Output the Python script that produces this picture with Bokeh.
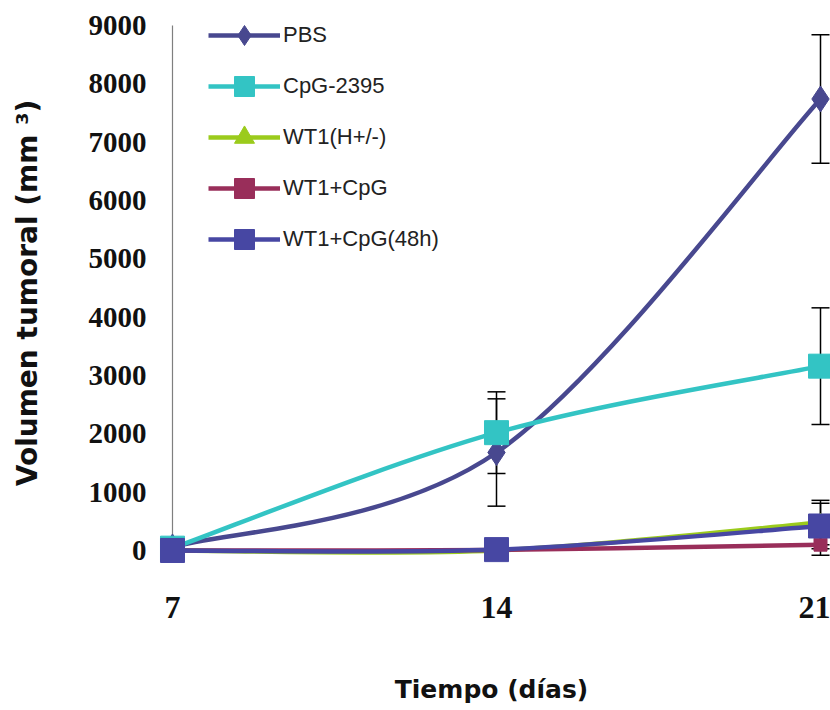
from bokeh.plotting import figure
from bokeh.models import (ColumnDataSource, Whisker, TeeHead, Legend, LegendItem,
                          FixedTicker, Range1d)
from bokeh.embed import file_html
from bokeh.resources import INLINE

# ---------------- data ----------------
days = [7, 14, 21]
x_tick_labels = ["7", "14", "21"]
y_ticks = [0, 1000, 2000, 3000, 4000, 5000, 6000, 7000, 8000, 9000]

names = ["PBS", "CpG-2395", "WT1(H+/-)", "WT1+CpG", "WT1+CpG(48h)"]
pbs = [60, 1680, 7740]
pbs_err = [30, 920, 1100]
cpg = [40, 2020, 3160]
cpg_err = [30, 700, 1000]
wt1 = [0, 0, 480]
wt1_err = [20, 20, 380]
wt1cpg = [0, 10, 100]
wt1cpg_err = [10, 20, 180]
wt1cpg48 = [0, 15, 420]
wt1cpg48_err = [10, 20, 390]

values = [pbs, cpg, wt1, wt1cpg, wt1cpg48]
errors = [pbs_err, cpg_err, wt1_err, wt1cpg_err, wt1cpg48_err]
colors = ["#48488F", "#33C4C4", "#9BCB1C", "#992E5A", "#4747A3"]
markers = ["diamond", "square", "triangle", "square", "square"]
sizes = [26, 24, 16, 13, 24]

# ---------------- figure ----------------
p = figure(width=830, height=710, output_backend="svg", toolbar_location=None,
           x_range=Range1d(6.568, 21.216), y_range=Range1d(-428.6, 9257.1),
           min_border_left=152, min_border_right=0, min_border_top=10,
           min_border_bottom=135, background_fill_color="white",
           border_fill_color="white")
p.outline_line_color = None
p.xgrid.visible = False
p.ygrid.visible = False

# y axis
p.yaxis.ticker = FixedTicker(ticks=y_ticks)
p.yaxis.axis_line_color = None
p.yaxis.major_tick_line_color = None
p.yaxis.minor_tick_line_color = None
p.yaxis.major_tick_out = 0
p.yaxis.major_label_standoff = 6
p.yaxis.major_label_text_font = "Liberation Serif"
p.yaxis.major_label_text_font_style = "bold"
p.yaxis.major_label_text_font_size = "29px"
p.yaxis.major_label_text_color = "#111111"
p.yaxis.axis_label = "Volumen tumoral (mm ³)"
p.yaxis.axis_label_standoff = 42
p.yaxis.axis_label_text_font = "DejaVu Sans"
p.yaxis.axis_label_text_font_style = "bold"
p.yaxis.axis_label_text_font_size = "28px"
p.yaxis.axis_label_text_color = "#111111"

# x axis
p.xaxis.ticker = FixedTicker(ticks=days)
p.xaxis.major_label_overrides = {d: t for d, t in zip(days, x_tick_labels)}
p.xaxis.axis_line_color = None
p.xaxis.major_tick_line_color = None
p.xaxis.minor_tick_line_color = None
p.xaxis.major_tick_out = 0
p.xaxis.major_label_standoff = 21
p.xaxis.major_label_text_font = "Liberation Serif"
p.xaxis.major_label_text_font_style = "bold"
p.xaxis.major_label_text_font_size = "32px"
p.xaxis.major_label_text_color = "#111111"
p.xaxis.axis_label = "Tiempo (días)"
p.xaxis.axis_label_standoff = 54
p.xaxis.axis_label_text_font = "DejaVu Sans"
p.xaxis.axis_label_text_font_style = "bold"
p.xaxis.axis_label_text_font_size = "25px"
p.xaxis.axis_label_text_color = "#111111"

# vertical axis line at the first category
p.segment(x0=[days[0]], y0=[y_ticks[0]], x1=[days[0]], y1=[y_ticks[-1]],
          line_color="#7F7F7F", line_width=1.2)


def smooth(xs, ys):
    n = len(xs)
    d = dict(x0=[], y0=[], x1=[], y1=[], cx0=[], cy0=[], cx1=[], cy1=[])
    for i in range(n - 1):
        a = i - 1 if i > 0 else i
        b = i + 2 if i + 2 < n else i + 1
        d["x0"].append(xs[i]); d["y0"].append(ys[i])
        d["x1"].append(xs[i + 1]); d["y1"].append(ys[i + 1])
        d["cx0"].append(xs[i] + (xs[i + 1] - xs[a]) / 6)
        d["cy0"].append(ys[i] + (ys[i + 1] - ys[a]) / 6)
        d["cx1"].append(xs[i + 1] - (xs[b] - xs[i]) / 6)
        d["cy1"].append(ys[i + 1] - (ys[b] - ys[i]) / 6)
    return d


items = []
for name, vals, errs, col, mk, sz in zip(names, values, errors, colors, markers, sizes):
    src = ColumnDataSource(dict(x=days, y=vals,
                                upper=[v + e for v, e in zip(vals, errs)],
                                lower=[v - e for v, e in zip(vals, errs)]))
    w = Whisker(base="x", upper="upper", lower="lower", source=src,
                line_color="black", line_width=1.5,
                upper_head=TeeHead(size=18, line_color="black", line_width=1.5),
                lower_head=TeeHead(size=18, line_color="black", line_width=1.5))
    p.add_layout(w)
    bz = p.bezier(source=ColumnDataSource(smooth(days, vals)), x0="x0", y0="y0",
                  x1="x1", y1="y1", cx0="cx0", cy0="cy0", cx1="cx1", cy1="cy1",
                  line_color=col, line_width=4.5)
    sc = p.scatter(x="x", y="y", source=src, marker=mk, size=sz,
                   fill_color=col, line_color=col)
    items.append(LegendItem(label=name, renderers=[bz, sc]))

legend = Legend(items=items, location=(56, 311), orientation="vertical",
                glyph_width=72, glyph_height=50, label_height=50, spacing=1,
                label_standoff=3, padding=0, margin=0,
                border_line_color=None, background_fill_alpha=0,
                label_text_font="Liberation Sans", label_text_font_size="22px",
                label_text_color="#222222")
p.add_layout(legend, "center")

open("out.html", "w").write(file_html(p, INLINE))
